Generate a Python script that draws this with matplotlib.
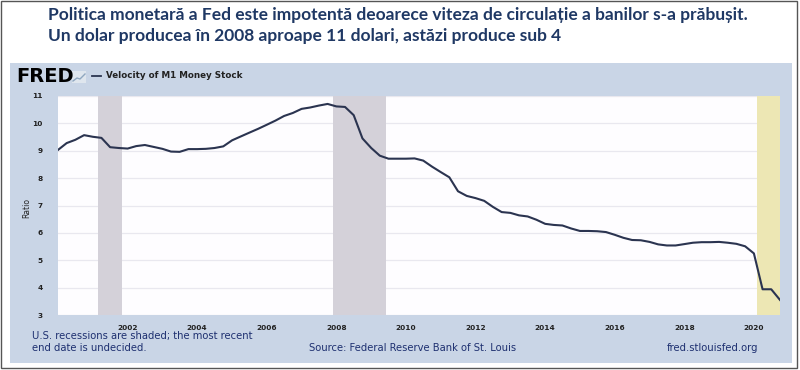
import matplotlib
matplotlib.use("Agg")
import matplotlib.pyplot as plt
from matplotlib.patches import Rectangle
import pandas as pd

# ---- data ----
title_lines = ["Politica monetară a Fed este impotentă deoarece viteza de circulație a banilor s-a prăbușit.",
               "Un dolar producea în 2008 aproape 11 dolari, astăzi produce sub 4"]
series_name = "Velocity of M1 Money Stock"
quarters = pd.date_range("2000-01-01", "2020-10-01", freq="QS")
velocity = [9.03, 9.28, 9.40, 9.57, 9.51, 9.47, 9.13, 9.10,
            9.08, 9.17, 9.21, 9.14, 9.07, 8.97, 8.96, 9.06,
            9.06, 9.07, 9.10, 9.16, 9.38, 9.52, 9.66, 9.80,
            9.95, 10.10, 10.27, 10.38, 10.53, 10.58, 10.65, 10.71,
            10.62, 10.60, 10.30, 9.45, 9.10, 8.82, 8.71, 8.71,
            8.71, 8.72, 8.64, 8.42, 8.22, 8.03, 7.52, 7.35,
            7.27, 7.17, 6.95, 6.76, 6.73, 6.64, 6.60, 6.48,
            6.33, 6.29, 6.27, 6.16, 6.07, 6.07, 6.06, 6.03,
            5.93, 5.82, 5.74, 5.73, 5.67, 5.58, 5.54, 5.54,
            5.59, 5.64, 5.66, 5.66, 5.67, 5.64, 5.60, 5.51,
            5.25, 3.94, 3.94, 3.55]
recessions = [("2001-03-01", "2001-11-01"), ("2007-12-01", "2009-06-01")]
recession_open = ("2020-02-01", "2020-10-01")
year_ticks = list(range(2002, 2021, 2))
y_ticks = list(range(3, 12))

W, H = 800, 370
fig = plt.figure(figsize=(8, 3.7), dpi=100)
fig.patch.set_facecolor("white")

def fx(px): return px / W
def fy(py): return 1 - py / H

# background layer axes (pixel coords)
bg = fig.add_axes([0, 0, 1, 1], zorder=-10)
bg.set_xlim(0, W)
bg.set_ylim(H, 0)
bg.axis("off")
bg.add_patch(Rectangle((1, 1), 796, 367, fill=False, edgecolor="#555555", linewidth=1.0))
bg.add_patch(Rectangle((10, 63), 782, 300, facecolor="#c9d5e6", edgecolor="none"))
bg.add_patch(Rectangle((72, 71), 14, 12, facecolor="#dfe6ee", edgecolor="none"))
bg.plot([73, 77, 80, 85], [81, 78, 79, 74], color="#8fa7c0", linewidth=1.0)
bg.plot([92, 101], [76, 76], color="#2a3550", linewidth=1.3)

# title
navy = "#1f3864"
fig.text(fx(48), fy(15), title_lines[0], fontsize=12.5, fontweight="bold", color=navy,
         family="Lato", va="center", ha="left")
fig.text(fx(48), fy(36), title_lines[1], fontsize=12.5, fontweight="bold", color=navy,
         family="Lato", va="center", ha="left")

# FRED logo + legend
fig.text(fx(16), fy(77), "FRED", fontsize=14, fontweight="black", color="black",
         family="DejaVu Sans", va="center", ha="left")
fig.text(fx(106), fy(76), series_name, fontsize=6.3, fontweight="bold", color="#222222",
         va="center", ha="left")

# axes
ax = fig.add_axes([fx(58), fy(315), fx(780 - 58), (315 - 96) / H], zorder=5)
ax.set_facecolor("#fefdff")
for s in ax.spines.values():
    s.set_visible(False)
for a, b in recessions:
    ax.axvspan(pd.Timestamp(a), pd.Timestamp(b), color="#d4d1d9", lw=0, zorder=1)
ax.axvspan(pd.Timestamp(recession_open[0]), pd.Timestamp(recession_open[1]),
           color="#ede7b4", lw=0, zorder=1)
ax.plot(quarters, velocity, color="#2b3450", linewidth=1.5, zorder=3)
ax.set_xlim(pd.Timestamp("2000-01-01"), pd.Timestamp("2020-10-01"))
ax.set_ylim(3, 11)
ax.set_yticks(y_ticks)
ax.set_xticks([pd.Timestamp(f"{y}-01-01") for y in year_ticks])
ax.set_xticklabels([str(y) for y in year_ticks])
ax.grid(axis="y", color="#e9e8ef", linewidth=0.9, zorder=0)
ax.set_axisbelow(True)
ax.tick_params(axis="both", length=0, labelsize=5.3, colors="#222222")
ax.tick_params(axis="x", pad=7)
ax.tick_params(axis="y", pad=11)
for lbl in ax.get_xticklabels() + ax.get_yticklabels():
    lbl.set_fontweight("bold")
fig.text(fx(27), fy(208), "Ratio", fontsize=5.5, rotation=90, color="#222222",
         va="center", ha="center")

# footer
foot = "#1e3070"
fig.text(fx(32), fy(336), "U.S. recessions are shaded; the most recent", fontsize=7.2,
         color=foot, va="center", ha="left")
fig.text(fx(32), fy(348), "end date is undecided.", fontsize=7.2, color=foot,
         va="center", ha="left")
fig.text(fx(309), fy(348), "Source: Federal Reserve Bank of St. Louis", fontsize=7.2,
         color=foot, va="center", ha="left")
fig.text(fx(758), fy(348), "fred.stlouisfed.org", fontsize=7.2, color=foot,
         va="center", ha="right")

fig.savefig("out.png", dpi=100)
